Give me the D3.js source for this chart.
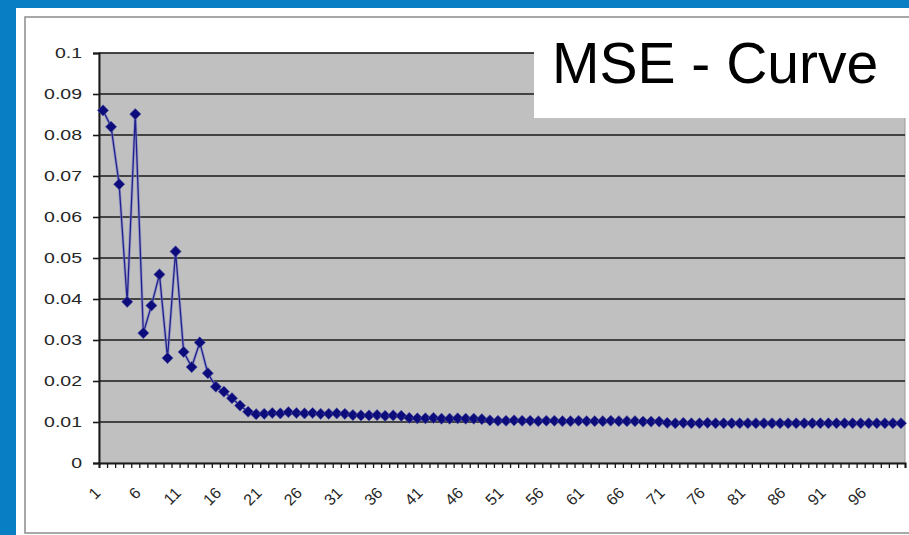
<!DOCTYPE html>
<html>
<head>
<meta charset="utf-8">
<script src="https://cdn.jsdelivr.net/npm/d3@7"></script>
<style>
  body { margin: 0; background: #087fc4; }
  svg { display: block; }
</style>
</head>
<body>
<script>
var width = 909, height = 535;

// MSE per training epoch
var epochs = d3.range(1, 101);
var mse = [
  0.0860, 0.0820, 0.0680, 0.0393, 0.0851, 0.0317, 0.0384, 0.0460, 0.0256, 0.0516,
  0.0271, 0.0234, 0.0294, 0.0219, 0.0186, 0.0174, 0.0158, 0.0140, 0.0125, 0.0119,
  0.0120, 0.0122, 0.0121, 0.0124, 0.0122, 0.0121, 0.0122, 0.0120, 0.0120, 0.0121,
  0.0120, 0.0117, 0.0116, 0.0116, 0.0117, 0.0115, 0.0116, 0.0115, 0.0110, 0.0109,
  0.0109, 0.0110, 0.0108, 0.0108, 0.0109, 0.0108, 0.0108, 0.0107, 0.0104, 0.0103,
  0.0103, 0.0104, 0.0103, 0.0103, 0.0102, 0.0103, 0.0103, 0.0102, 0.0102, 0.0103,
  0.0102, 0.0102, 0.0102, 0.0103, 0.0102, 0.0102, 0.0102, 0.0101, 0.0101, 0.0101,
  0.0098, 0.0097, 0.0098, 0.0097, 0.0097, 0.0098, 0.0097, 0.0097, 0.0097, 0.0097,
  0.0097, 0.0097, 0.0097, 0.0097, 0.0097, 0.0097, 0.0097, 0.0097, 0.0097, 0.0097,
  0.0097, 0.0097, 0.0097, 0.0097, 0.0097, 0.0097, 0.0097, 0.0097, 0.0097, 0.0097
];
var yTicks = [0, 0.01, 0.02, 0.03, 0.04, 0.05, 0.06, 0.07, 0.08, 0.09, 0.1];
var yTickLabels = ["0", "0.01", "0.02", "0.03", "0.04", "0.05", "0.06", "0.07", "0.08", "0.09", "0.1"];
var xTickLabels = [1, 6, 11, 16, 21, 26, 31, 36, 41, 46, 51, 56, 61, 66, 71, 76, 81, 86, 91, 96];
var title = "MSE - Curve";

var plot = {left: 99, right: 905, top: 53, bottom: 463};
var font = "'Liberation Sans', Arial, sans-serif";

var svg = d3.select("body")
    .append("svg")
    .attr("width", width)
    .attr("height", height);

// blue frame, white sheet, chart border
svg.append("rect").attr("x", 0).attr("y", 0).attr("width", width).attr("height", height).attr("fill", "#087fc4");
svg.append("rect").attr("x", 16).attr("y", 8).attr("width", width).attr("height", height).attr("fill", "#fff");
svg.append("rect").attr("x", 25).attr("y", 17).attr("width", 900).attr("height", 516)
    .attr("fill", "none").attr("stroke", "#8c8c8c").attr("stroke-width", 1.5);

var xScale = d3.scaleLinear()
        .domain([0.5, 100.5])
        .range([plot.left, plot.right]),
    yScale = d3.scaleLinear()
        .domain([0, 0.1])
        .range([plot.bottom, plot.top]);

// plot area
svg.append("rect")
    .attr("x", plot.left).attr("y", plot.top)
    .attr("width", plot.right - plot.left).attr("height", plot.bottom - plot.top)
    .attr("fill", "#c0c0c0").attr("stroke", "#9a9a9a").attr("stroke-width", 1);

// gridlines
svg.append("g")
    .selectAll("line")
    .data(yTicks.slice(1))
    .enter()
    .append("line")
        .attr("x1", plot.left).attr("x2", plot.right)
        .attr("y1", function (d) { return yScale(d); })
        .attr("y2", function (d) { return yScale(d); })
        .attr("stroke", "#1a1a1a").attr("stroke-width", 1.6);

// y axis
var yAxis = svg.append("g")
    .attr("transform", "translate(" + plot.left + ",0)")
    .call(d3.axisLeft(yScale)
        .tickValues(yTicks)
        .tickSize(6)
        .tickFormat(function (d, i) { return yTickLabels[i]; }));
yAxis.select(".domain").attr("stroke", "#1a1a1a").attr("stroke-width", 2);
yAxis.selectAll(".tick line").attr("stroke", "#1a1a1a").attr("stroke-width", 1.6);
yAxis.selectAll(".tick text")
    .attr("fill", "#262626")
    .attr("font-size", 15)
    .attr("font-family", font)
    .attr("x", 0)
    .attr("transform", "translate(-17,0) scale(1.3,1)");

// x axis: ticks between categories
var xAxis = svg.append("g")
    .attr("transform", "translate(0," + plot.bottom + ")")
    .call(d3.axisBottom(xScale)
        .tickValues(d3.range(0.5, 101, 1))
        .tickSize(5)
        .tickFormat(""));
xAxis.select(".domain").attr("stroke", "#1a1a1a").attr("stroke-width", 2);
xAxis.selectAll(".tick line").attr("stroke", "#1a1a1a").attr("stroke-width", 1.3);

// x labels, rotated
var xLabels = svg.append("g")
    .attr("transform", "translate(0," + plot.bottom + ")")
    .call(d3.axisBottom(xScale)
        .tickValues(xTickLabels)
        .tickSize(0)
        .tickFormat(function (d) { return d; }));
xLabels.select(".domain").remove();
xLabels.selectAll(".tick text")
    .attr("fill", "#262626")
    .attr("font-size", 16)
    .attr("font-family", font)
    .attr("text-anchor", "end")
    .attr("y", 0)
    .attr("dy", "0.35em")
    .attr("transform", "translate(-6,27) rotate(-45)");

// line + diamond markers
var line = d3.line()
    .x(function (d, i) { return xScale(epochs[i]); })
    .y(function (d) { return yScale(d); });

svg.append("path")
    .datum(mse)
    .attr("d", line)
    .attr("fill", "none")
    .attr("stroke", "#8080c8")
    .attr("stroke-width", 3)
    .attr("stroke-opacity", 0.6);
svg.append("path")
    .datum(mse)
    .attr("d", line)
    .attr("fill", "none")
    .attr("stroke", "#20208c")
    .attr("stroke-width", 1.3);

var diamond = "M0,-5.6L5.6,0L0,5.6L-5.6,0Z";

svg.selectAll(".pt")
    .data(mse)
    .enter()
    .append("path")
        .attr("class", "pt")
        .attr("d", diamond)
        .attr("transform", function (d, i) {
            return "translate(" + xScale(epochs[i]) + "," + yScale(d) + ")";
        })
        .attr("fill", "#0c0c7a")
        .attr("stroke", "#5858a8")
        .attr("stroke-width", 0.6);

// title box
svg.append("rect")
    .attr("x", 534).attr("y", 18).attr("width", 380).attr("height", 100)
    .attr("fill", "#fff");
svg.append("text")
    .attr("x", 552).attr("y", 83)
    .attr("font-family", font)
    .attr("font-size", 57)
    .attr("fill", "#000")
    .text(title);
</script>
</body>
</html>
